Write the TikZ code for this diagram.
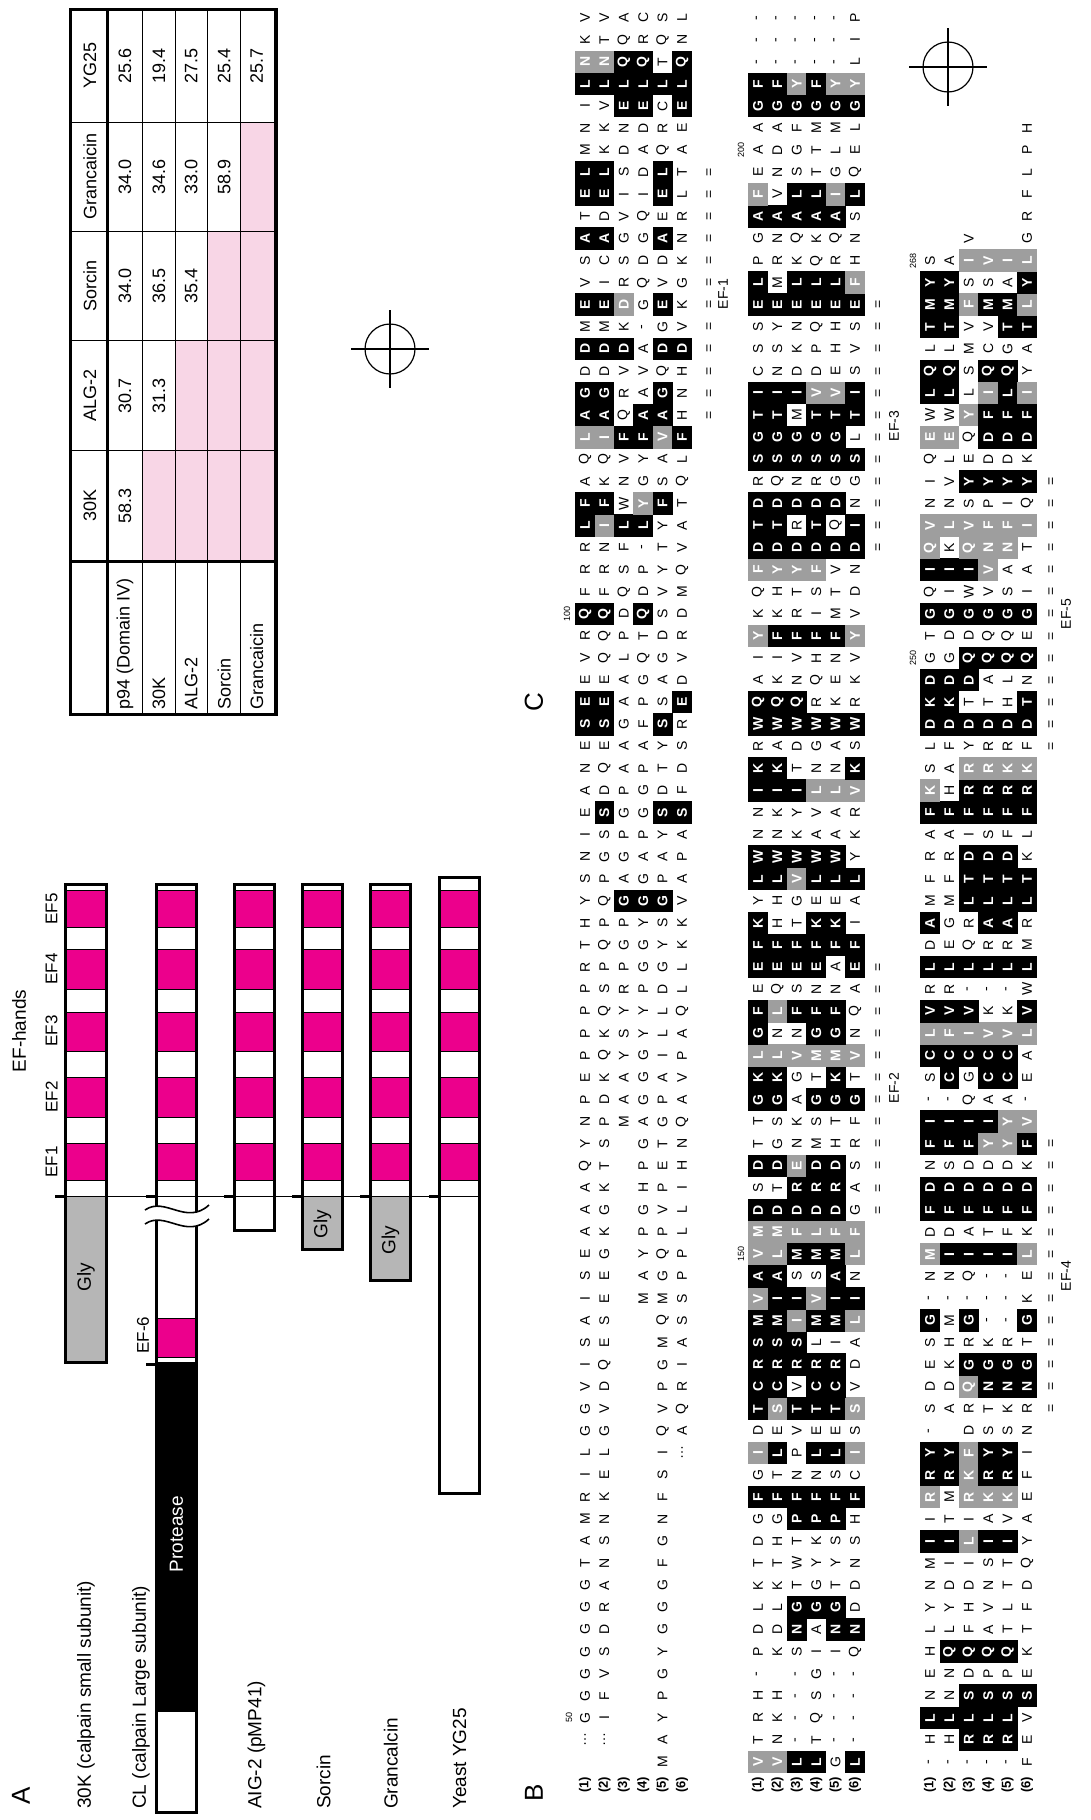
\documentclass[tikz,border=0pt]{standalone}
\usepackage{fontspec}
\setmainfont{Liberation Sans}
\definecolor{mag}{RGB}{236,0,140}
\definecolor{glyg}{RGB}{182,182,182}
\definecolor{pinkc}{RGB}{248,214,230}
\definecolor{hgray}{RGB}{158,158,158}
\tikzset{
  seqn/.style={rotate=90,inner sep=0pt,font=\fontsize{14}{14}\selectfont},
  seqw/.style={rotate=90,inner sep=0pt,text=white,font=\fontsize{14}{14}\selectfont\bfseries},
  rlab/.style={rotate=90,inner sep=0pt,font=\fontsize{13}{13}\selectfont\bfseries},
  numlab/.style={rotate=90,inner sep=0pt,font=\fontsize{9}{9}\selectfont},
  eflab/.style={rotate=90,inner sep=0pt,font=\fontsize{14}{14}\selectfont},
  alab/.style={rotate=90,inner sep=0pt,font=\fontsize{19}{20}\selectfont},
  tlab/.style={rotate=90,inner sep=0pt,font=\fontsize{18}{20}\selectfont},
  panel/.style={rotate=90,inner sep=0pt,font=\fontsize{26}{26}\selectfont},
  barline/.style={line width=3pt},
  magseg/.style={fill=mag,draw=black,line width=0.8pt},
}
\def\bx{585}
\def\seqparse#1#2\relax{%
  \ifx*#1\relax
    \fill[black] (\sx-9.9,\sy-11.3) rectangle (\sx+9.9,\sy+11.3);
    \node[seqw] at (\sx,\sy) {#2};%
  \else\ifx+#1\relax
    \fill[hgray] (\sx-9.9,\sy-11.3) rectangle (\sx+9.9,\sy+11.3);
    \node[seqw] at (\sx,\sy) {#2};%
  \else\ifx.#1\relax
  \else
    \node[seqn] at (\sx,\sy) {#1#2};%
  \fi\fi\fi}
\newcommand\seqrow[2]{%
  \pgfmathsetmacro\sy{1762-(#1-1)*22.08}%
  \foreach \tok [count=\ii from 0] in {#2}{%
    \pgfmathsetmacro\sx{\bx+\ii*19.4}%
    \expandafter\seqparse\tok\relax}}
\newcommand\eqmarks[3]{% x, k from, k to
  \foreach \kk in {#2,...,#3}{\pgfmathsetmacro\sy{1762-(\kk-1)*22.08}\node[seqn] at (#1,\sy) {=};}}
\newcommand\efsegs[2]{%
  \foreach \ya/\yb in {890/927.5,949/989,1012/1051,1077.5/1117,1143/1180.6}
   {\draw[magseg] (#1,\ya) rectangle (#2,\yb);}}
\begin{document}
\begin{tikzpicture}[x=1pt,y=-1pt]
\useasboundingbox (0,0) rectangle (1091,1820);
\fill[white] (0,0) rectangle (1091,1820);

% ================= PANEL A =================
\node[panel] (pA) at (21,1796) {A};
\node[alab] (efh) at (19,1031) {EF-hands};
\node[eflab,font=\fontsize{17}{17}\selectfont] (ef1) at (51.6,1162) {EF1};
\node[eflab,font=\fontsize{17}{17}\selectfont] (ef2) at (51.6,1097) {EF2};
\node[eflab,font=\fontsize{17}{17}\selectfont] (ef3) at (51.6,1031) {EF3};
\node[eflab,font=\fontsize{17}{17}\selectfont] (ef4) at (51.6,969) {EF4};
\node[eflab,font=\fontsize{17}{17}\selectfont] (ef5) at (51.6,909) {EF5};

% 30K
\fill[glyg] (65.4,1196) rectangle (106.7,1362);
\efsegs{65.4}{106.7}
\draw[barline] (65.4,884) rectangle (106.7,1362);
\node[alab] (gly1) at (86,1277) {Gly};
% CL
\fill[black] (156.7,1362) rectangle (196.3,1712);
\draw[magseg] (156.7,1318) rectangle (196.3,1357.5);
\efsegs{156.7}{196.3}
\draw[barline] (156.7,884) rectangle (196.3,1812);
\node[alab,text=white] (prot) at (176.5,1534) {Protease};
\fill[white] (145,1210) .. controls (165,1196) and (186,1226) .. (209,1205) -- (209,1219) .. controls (186,1240) and (165,1210) .. (145,1224) -- cycle;
\draw[line width=1.6pt] (145,1210) .. controls (165,1196) and (186,1226) .. (209,1205);
\draw[line width=1.6pt] (145,1224) .. controls (165,1210) and (186,1240) .. (209,1219);
\node[alab,font=\fontsize{17}{17}\selectfont] (ef6) at (143,1335) {EF-6};
\draw[line width=3pt] (146,1364) -- (156,1364);
% AIG-2
\efsegs{234.2}{274.5}
\draw[barline] (234.2,884) rectangle (274.5,1230.6);
% Sorcin
\fill[glyg] (302.3,1196) rectangle (342.6,1249);
\efsegs{302.3}{342.6}
\draw[barline] (302.3,884) rectangle (342.6,1249);
\node[alab] (gly2) at (322.4,1224) {Gly};
% Grancalcin
\fill[glyg] (370.2,1196) rectangle (410.5,1280.6);
\efsegs{370.2}{410.5}
\draw[barline] (370.2,884) rectangle (410.5,1280.6);
\node[alab] (gly3) at (390.4,1240) {Gly};
% Yeast
\efsegs{439}{479.3}
\draw[barline] (439,877.5) rectangle (479.3,1493);
% baseline
\draw[line width=1pt] (55,1196) -- (479.3,1196);
\foreach \a in {55,146,224,292,360,429}{\draw[line width=3pt] (\a,1196) -- (\a+10,1196);}
% labels
\node[alab,anchor=west] (l30k) at (86,1809) {30K (calpain small subunit)};
\node[alab,anchor=west] (lcl) at (141,1809) {CL (calpain Large subunit)};
\node[alab,anchor=west] (lalg) at (256.5,1809) {AIG-2 (pMP41)};
\node[alab,anchor=west] (lsor) at (323.5,1809) {Sorcin};
\node[alab,anchor=west] (lgra) at (390.8,1809) {Grancalcin};
\node[alab,anchor=west] (lyg) at (459.7,1809) {Yeast YG25};

% ================= PANEL C =================
\node[panel] (pC) at (534,702) {C};
\fill[pinkc] (142.7,450.7) rectangle (175,561);
\fill[pinkc] (175,340.8) rectangle (207.7,561);
\fill[pinkc] (207.7,231.4) rectangle (240.7,561);
\fill[pinkc] (240.7,122) rectangle (276,561);
\foreach \xx in {142.7,175,207.7,240.7}{\draw[line width=1pt] (\xx,9.3) -- (\xx,714.6);}
\foreach \yy in {122,231.4,340.8,450.7}{\draw[line width=1pt] (70.7,\yy) -- (276,\yy);}
\draw[line width=3pt] (107.3,9.3) -- (107.3,714.6);
\draw[line width=3pt] (70.7,561) -- (276,561);
\draw[line width=3.5pt] (70.7,9.3) rectangle (276,714.6);
\node[tlab] (hyg) at (90,65.6) {YG25};
\node[tlab] (hgr) at (90,176.7) {Grancaicin};
\node[tlab] (hso) at (90,286.1) {Sorcin};
\node[tlab] (hal) at (90,395.7) {ALG-2};
\node[tlab] (h30) at (90,505.9) {30K};
\node[tlab,anchor=west] (rp94) at (125,710) {p94 (Domain IV)};
\node[tlab,anchor=west] (r30) at (158.9,710) {30K};
\node[tlab,anchor=west] (ral) at (191.3,710) {ALG-2};
\node[tlab,anchor=west] (rso) at (224.2,710) {Sorcin};
\node[tlab,anchor=west] (rgr) at (256.7,710) {Grancaicin};
\foreach \xx/\yy/\v in {125/505.9/58.3,125/395.7/30.7,125/286.1/34.0,125/176.7/34.0,125/65.6/25.6,
  158.9/395.7/31.3,158.9/286.1/36.5,158.9/176.7/34.6,158.9/65.6/19.4,
  191.3/286.1/35.4,191.3/176.7/33.0,191.3/65.6/27.5,
  224.2/176.7/58.9,224.2/65.6/25.4,256.7/65.6/25.7}{\node[tlab] at (\xx,\yy) {\v};}

% crosshairs
\draw[line width=1.2pt] (390,349) circle (25);
\draw[line width=1.2pt] (351,349) -- (429,349) (390,310) -- (390,388);
\draw[line width=1.2pt] (948,67) circle (25);
\draw[line width=1.2pt] (909,67) -- (987,67) (948,28) -- (948,106);

% ================= PANEL B =================
\node[panel] (pB) at (534,1793) {B};
\foreach \b in {585,758,930}{\foreach \r in {1,...,6}{\node[rlab] at (\b+\r*19.4-19.4,1785) {(\r)};}}

% ---- block 1
\def\bx{585}
\seqrow{1}{.,.,.,.,M,.}
\seqrow{2}{…,…,.,.,A,.}
\seqrow{3}{G,I,.,.,Y,.}
\seqrow{4}{G,F,.,.,P,.}
\seqrow{5}{G,V,.,.,G,.}
\seqrow{6}{G,S,.,.,Y,.}
\seqrow{7}{G,D,.,.,G,.}
\seqrow{8}{G,R,.,.,G,.}
\seqrow{9}{G,A,.,.,G,.}
\seqrow{10}{T,N,.,.,F,.}
\seqrow{11}{A,S,.,.,G,.}
\seqrow{12}{M,N,.,.,N,.}
\seqrow{13}{R,K,.,.,F,.}
\seqrow{14}{I,E,.,.,S,.}
\seqrow{15}{L,L,.,.,I,…}
\seqrow{16}{G,G,.,.,Q,A}
\seqrow{17}{G,V,.,.,V,Q}
\seqrow{18}{V,D,.,.,P,R}
\seqrow{19}{I,Q,.,.,G,I}
\seqrow{20}{S,E,.,.,M,A}
\seqrow{21}{A,S,.,.,Q,S}
\seqrow{22}{I,E,.,M,M,S}
\seqrow{23}{S,E,.,A,G,P}
\seqrow{24}{E,G,.,Y,Q,P}
\seqrow{25}{A,K,.,P,P,L}
\seqrow{26}{A,G,.,G,V,L}
\seqrow{27}{A,K,.,H,P,I}
\seqrow{28}{Q,T,.,P,E,H}
\seqrow{29}{Y,S,.,G,T,N}
\seqrow{30}{N,P,M,A,G,Q}
\seqrow{31}{P,D,A,G,P,A}
\seqrow{32}{E,K,A,G,A,V}
\seqrow{33}{P,Q,Y,G,I,P}
\seqrow{34}{P,K,S,Y,L,A}
\seqrow{35}{P,Q,Y,Y,L,Q}
\seqrow{36}{P,S,R,P,D,L}
\seqrow{37}{R,P,P,G,G,L}
\seqrow{38}{T,Q,G,G,Y,K}
\seqrow{39}{H,P,P,Y,S,K}
\seqrow{40}{Y,Q,*G,*G,*G,V}
\seqrow{41}{S,P,A,G,P,A}
\seqrow{42}{N,G,G,A,A,P}
\seqrow{43}{I,S,P,P,Y,A}
\seqrow{44}{E,*S,G,G,*S,*S}
\seqrow{45}{A,D,P,G,D,F}
\seqrow{46}{N,Q,A,P,T,D}
\seqrow{47}{E,E,A,A,Y,S}
\seqrow{48}{*S,*S,G,F,*S,R}
\seqrow{49}{*E,*E,A,P,S,*E}
\seqrow{50}{E,E,A,G,A,D}
\seqrow{51}{V,Q,L,Q,G,V}
\seqrow{52}{R,Q,P,T,D,R}
\seqrow{53}{*Q,*Q,D,*Q,S,D}
\seqrow{54}{F,F,Q,D,V,M}
\seqrow{55}{R,R,S,P,Y,Q}
\seqrow{56}{R,N,F,-,T,V}
\seqrow{57}{*L,+I,*L,*L,Y,A}
\seqrow{58}{*F,*F,W,+Y,*F,T}
\seqrow{59}{A,K,N,G,S,Q}
\seqrow{60}{Q,Q,V,Y,A,L}
\seqrow{61}{+L,+I,*F,*F,+V,*F}
\seqrow{62}{*A,*A,Q,*A,*A,H}
\seqrow{63}{*G,*G,R,A,*G,N}
\seqrow{64}{D,D,V,V,Q,H}
\seqrow{65}{*D,*D,*D,A,*D,*D}
\seqrow{66}{M,M,K,-,G,V}
\seqrow{67}{*E,*E,+D,G,*E,K}
\seqrow{68}{V,I,R,Q,V,G}
\seqrow{69}{S,C,S,D,D,K}
\seqrow{70}{*A,*A,G,G,*A,N}
\seqrow{71}{T,D,V,Q,E,R}
\seqrow{72}{*E,*E,I,I,*E,L}
\seqrow{73}{*L,*L,S,D,*L,T}
\seqrow{74}{M,K,D,A,Q,A}
\seqrow{75}{N,K,N,D,R,E}
\seqrow{76}{I,V,*E,*E,C,*E}
\seqrow{77}{*L,*L,*L,*L,*L,*L}
\seqrow{78}{+N,+N,*Q,*Q,T,*Q}
\seqrow{79}{K,T,Q,R,Q,N}
\seqrow{80}{V,V,A,C,S,L}
\eqmarks{710}{62}{73}

% ---- block 2
\def\bx{758}
\seqrow{1}{+V,+V,*L,*L,G,*L}
\seqrow{2}{T,N,-,T,-,-}
\seqrow{3}{R,K,-,Q,-,-}
\seqrow{4}{H,H,-,S,-,-}
\seqrow{5}{-,.,-,G,-,-}
\seqrow{6}{P,K,S,I,I,Q}
\seqrow{7}{D,D,*N,A,*N,*N}
\seqrow{8}{L,L,*G,*G,*G,D}
\seqrow{9}{K,K,T,G,T,D}
\seqrow{10}{T,T,W,Y,Y,N}
\seqrow{11}{D,H,T,K,S,S}
\seqrow{12}{G,G,*P,*P,*P,H}
\seqrow{13}{*F,*F,*F,*F,*F,*F}
\seqrow{14}{G,T,N,N,S,C}
\seqrow{15}{+I,*L,P,*L,*L,+I}
\seqrow{16}{D,E,V,E,E,S}
\seqrow{17}{*T,+S,*T,*T,*T,+S}
\seqrow{18}{*C,*C,V,*C,*C,V}
\seqrow{19}{*R,*R,*R,*R,*R,D}
\seqrow{20}{*S,*S,*S,L,I,A}
\seqrow{21}{*M,*M,+I,*M,*M,+L}
\seqrow{22}{+V,*I,*I,+V,*I,*I}
\seqrow{23}{*A,*A,S,S,*A,N}
\seqrow{24}{+V,+L,*M,*M,*M,+L}
\seqrow{25}{+M,+M,+F,+L,+F,+F}
\seqrow{26}{*D,*D,*D,*D,*D,G}
\seqrow{27}{S,T,*R,*R,*R,A}
\seqrow{28}{*D,*D,+E,*D,*D,S}
\seqrow{29}{T,G,N,M,H,R}
\seqrow{30}{T,S,K,S,T,F}
\seqrow{31}{*G,*G,A,*G,*G,*G}
\seqrow{32}{*K,*K,G,T,*K,T}
\seqrow{33}{+L,+L,+V,+M,+M,+V}
\seqrow{34}{*G,N,N,*G,*G,N}
\seqrow{35}{*F,+L,*F,*F,*F,Q}
\seqrow{36}{E,Q,S,N,N,A}
\seqrow{37}{*E,*E,*E,*E,A,*E}
\seqrow{38}{*F,*F,*F,*F,*F,*F}
\seqrow{39}{*K,H,T,*K,*K,I}
\seqrow{40}{Y,H,G,E,E,A}
\seqrow{41}{*L,*L,+V,*L,*L,*L}
\seqrow{42}{*W,*W,*W,*W,*W,Y}
\seqrow{43}{N,N,K,A,A,K}
\seqrow{44}{N,K,Y,V,A,R}
\seqrow{45}{*I,*I,*I,+L,+L,+V}
\seqrow{46}{*K,*K,T,N,N,*K}
\seqrow{47}{R,A,D,G,A,S}
\seqrow{48}{*W,*W,*W,*W,*W,*W}
\seqrow{49}{*Q,*Q,*Q,R,K,R}
\seqrow{50}{A,K,N,Q,E,K}
\seqrow{51}{I,I,V,H,N,V}
\seqrow{52}{+Y,*F,*F,*F,*F,+Y}
\seqrow{53}{K,K,R,I,M,V}
\seqrow{54}{Q,H,T,S,T,D}
\seqrow{55}{+F,+Y,+Y,+F,V,N}
\seqrow{56}{*D,*D,*D,*D,*D,*D}
\seqrow{57}{*T,*T,R,*T,Q,*I}
\seqrow{58}{*D,*D,*D,*D,*D,N}
\seqrow{59}{R,Q,N,R,G,G}
\seqrow{60}{*S,*S,*S,*S,*S,*S}
\seqrow{61}{*G,*G,*G,*G,*G,L}
\seqrow{62}{*T,*T,M,*T,*T,*T}
\seqrow{63}{*I,*I,*I,+V,+V,*I}
\seqrow{64}{C,N,D,D,E,S}
\seqrow{65}{S,S,K,P,H,V}
\seqrow{66}{S,Y,N,Q,H,S}
\seqrow{67}{*E,*E,*E,*E,*E,*E}
\seqrow{68}{*L,M,*L,*L,*L,+F}
\seqrow{69}{P,R,K,Q,R,H}
\seqrow{70}{G,N,Q,K,Q,N}
\seqrow{71}{*A,*A,*A,*A,*A,S}
\seqrow{72}{+F,V,*L,*L,+I,*L}
\seqrow{73}{E,N,S,T,G,Q}
\seqrow{74}{A,D,G,T,L,E}
\seqrow{75}{A,A,F,M,M,L}
\seqrow{76}{*G,*G,*G,*G,*G,*G}
\seqrow{77}{*F,*F,+Y,*F,+Y,+Y}
\seqrow{78}{-,-,-,-,-,L}
\seqrow{79}{-,-,-,-,-,I}
\seqrow{80}{-,-,-,-,-,P}
\eqmarks{879}{26}{37}
\eqmarks{879}{56}{67}

% ---- block 3
\def\bx{930}
\seqrow{1}{-,-,-,-,-,F}
\seqrow{2}{H,H,*R,*R,*R,E}
\seqrow{3}{*L,*L,*L,*L,*L,V}
\seqrow{4}{N,N,*S,*S,*S,*S}
\seqrow{5}{E,N,D,P,P,E}
\seqrow{6}{H,*Q,*Q,*Q,*Q,K}
\seqrow{7}{L,L,F,A,T,T}
\seqrow{8}{Y,Y,H,V,L,F}
\seqrow{9}{N,D,D,N,T,D}
\seqrow{10}{M,I,I,S,T,Q}
\seqrow{11}{*I,*I,+L,*I,*I,Y}
\seqrow{12}{I,T,I,A,V,A}
\seqrow{13}{+R,M,+R,+K,+K,E}
\seqrow{14}{*R,*R,+K,*R,*R,F}
\seqrow{15}{*Y,*Y,+F,*Y,*Y,I}
\seqrow{16}{-,.,D,S,S,N}
\seqrow{17}{S,A,R,T,K,R}
\seqrow{18}{D,D,+Q,*N,*N,*N}
\seqrow{19}{E,K,*G,*G,*G,*G}
\seqrow{20}{S,H,R,K,R,T}
\seqrow{21}{*G,M,*G,-,-,*G}
\seqrow{22}{-,-,-,-,-,K}
\seqrow{23}{N,N,Q,-,-,E}
\seqrow{24}{+M,*I,*I,*I,*I,+L}
\seqrow{25}{D,D,A,T,F,K}
\seqrow{26}{*F,*F,*F,*F,*F,*F}
\seqrow{27}{*D,*D,*D,*D,*D,*D}
\seqrow{28}{N,S,D,D,D,K}
\seqrow{29}{*F,*F,*F,+Y,+Y,*F}
\seqrow{30}{*I,*I,*I,*I,+Y,+V}
\seqrow{31}{-,-,Q,A,A,-}
\seqrow{32}{S,*C,G,*C,*C,E}
\seqrow{33}{*C,*C,*C,*C,*C,A}
\seqrow{34}{+L,+F,+I,+V,+V,+L}
\seqrow{35}{*V,*V,*V,K,K,*V}
\seqrow{36}{R,R,-,-,-,W}
\seqrow{37}{*L,*L,*L,*L,*L,*L}
\seqrow{38}{D,E,Q,R,R,M}
\seqrow{39}{*A,G,R,*A,*A,R}
\seqrow{40}{M,M,*L,*L,*L,*L}
\seqrow{41}{F,F,*T,*T,*T,*T}
\seqrow{42}{R,R,*D,*D,*D,K}
\seqrow{43}{A,A,I,S,F,L}
\seqrow{44}{*F,*F,*F,*F,*F,*F}
\seqrow{45}{+K,H,*R,*R,*R,*R}
\seqrow{46}{S,A,+R,+R,+K,+K}
\seqrow{47}{L,F,Y,R,R,F}
\seqrow{48}{*D,*D,*D,*D,*D,*D}
\seqrow{49}{*K,*K,T,T,H,*T}
\seqrow{50}{*D,*D,*D,A,L,N}
\seqrow{51}{G,G,*Q,*Q,*Q,*Q}
\seqrow{52}{T,D,D,Q,Q,E}
\seqrow{53}{*G,*G,*G,*G,*G,*G}
\seqrow{54}{Q,I,W,V,S,I}
\seqrow{55}{*I,*I,*I,+V,A,A}
\seqrow{56}{+Q,K,+Q,+N,+N,T}
\seqrow{57}{+V,+L,+V,+F,+F,+I}
\seqrow{58}{N,N,S,P,I,Q}
\seqrow{59}{I,V,*Y,*Y,*Y,*Y}
\seqrow{60}{Q,L,E,D,D,K}
\seqrow{61}{+E,+E,Q,*D,*D,*D}
\seqrow{62}{W,W,+Y,*F,*F,*F}
\seqrow{63}{*L,*L,L,+I,*L,+I}
\seqrow{64}{*Q,*Q,S,*Q,*Q,Y}
\seqrow{65}{L,L,M,C,G,A}
\seqrow{66}{*T,*T,V,V,*T,*T}
\seqrow{67}{*M,*M,+F,*M,*M,+L}
\seqrow{68}{*Y,*Y,S,S,A,*Y}
\seqrow{69}{S,A,+I,+V,+I,+L}
\seqrow{70}{.,.,V,.,.,G}
\seqrow{71}{.,.,.,.,.,R}
\seqrow{72}{.,.,.,.,.,F}
\seqrow{73}{.,.,.,.,.,L}
\seqrow{74}{.,.,.,.,.,P}
\seqrow{75}{.,.,.,.,.,H}
\eqmarks{1052}{17}{29}
\eqmarks{1052}{47}{59}

% numbers
\node[numlab] (n50) at (569,1717.8) {50};
\node[numlab] (n100) at (567,613.8) {100};
\node[numlab] (n150) at (741,1254.2) {150};
\node[numlab] (n200) at (741,150.2) {200};
\node[numlab] (n250) at (913,658) {250};
\node[numlab] (n268) at (913,260.6) {268};
% EF labels
\node[eflab] (bef1) at (723,294) {EF-1};
\node[eflab] (bef2) at (894,1088) {EF-2};
\node[eflab] (bef3) at (894,426) {EF-3};
\node[eflab] (bef4) at (1066,1276) {EF-4};
\node[eflab] (bef5) at (1066,614) {EF-5};
\end{tikzpicture}
\end{document}
